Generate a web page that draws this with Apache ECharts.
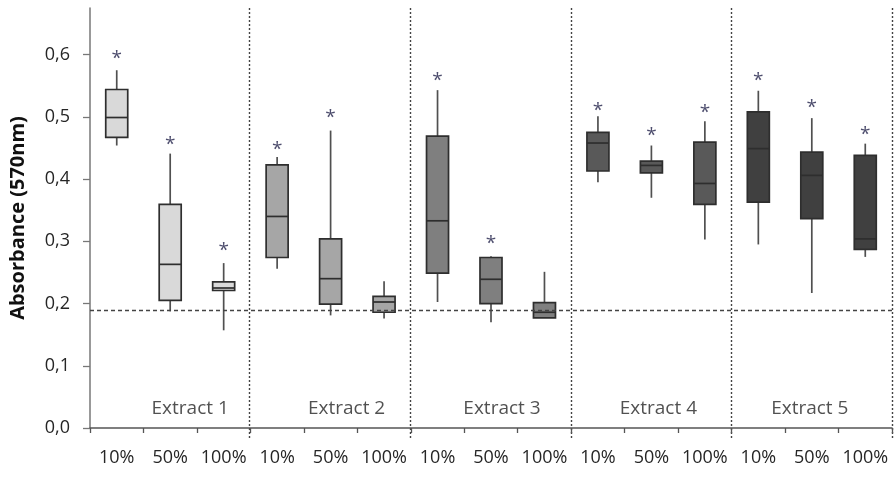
<!DOCTYPE html>
<html>
<head>
<meta charset="utf-8">
<script src="https://cdn.jsdelivr.net/npm/echarts@6/dist/echarts.min.js"></script>
<style>
html,body{margin:0;padding:0;background:#fff;}
#chart{width:894px;height:490px;}
</style>
</head>
<body>
<div id="chart"></div>
<script>
// ---- data ----
const categories = ['10%','50%','100%','10%','50%','100%','10%','50%','100%','10%','50%','100%','10%','50%','100%'];
const extracts = ['Extract 1','Extract 2','Extract 3','Extract 4','Extract 5'];
const boxMin    = [0.454, 0.1875, 0.157, 0.256, 0.181, 0.176, 0.2025, 0.170, 0.1768, 0.395, 0.370, 0.303, 0.295, 0.217, 0.275];
const boxQ1     = [0.467, 0.205, 0.221, 0.274, 0.199, 0.186, 0.249, 0.200, 0.177, 0.413, 0.410, 0.3595, 0.363, 0.3365, 0.287];
const boxMedian = [0.499, 0.263, 0.225, 0.340, 0.240, 0.2025, 0.333, 0.239, 0.186, 0.458, 0.422, 0.393, 0.449, 0.406, 0.304];
const boxQ3     = [0.544, 0.3595, 0.235, 0.423, 0.304, 0.2115, 0.469, 0.274, 0.2015, 0.475, 0.429, 0.4595, 0.508, 0.4435, 0.438];
const boxMax    = [0.575, 0.441, 0.265, 0.4355, 0.478, 0.236, 0.543, 0.276, 0.251, 0.501, 0.454, 0.493, 0.542, 0.498, 0.457];
const starY     = [0.600, 0.462, 0.292, 0.454, 0.505, null, 0.564, 0.302, null, 0.517, 0.477, 0.514, 0.564, 0.521, 0.478];
const referenceLevel = 0.1864;
const yTicks = [0, 0.1, 0.2, 0.3, 0.4, 0.5, 0.6];
const extractLabelY = 0.0317;

// ---- styles ----
const groupFill = ['#d9d9d9', '#a6a6a6', '#7f7f7f', '#595959', '#404040'];
const extractLabelShift = [20, 16, 11, 7, -2];
const FONT = '"Open Sans", "DejaVu Sans", sans-serif';
const TEXT = '#262626';

const boxData = categories.map((c, i) => [i, boxMin[i], boxQ1[i], boxMedian[i], boxQ3[i], boxMax[i]]);
const starData = [];
starY.forEach((v, i) => { if (v != null) starData.push([i, v]); });
const extractData = extracts.map((name, k) => ({
  value: [k * 3 + 1, extractLabelY],
  name: name,
  label: { offset: [extractLabelShift[k], 0] }
}));

const chart = echarts.init(document.getElementById('chart'), null, { renderer: 'canvas' });

const option = {
  animation: false,
  backgroundColor: '#ffffff',
  grid: [
    { left: 89, right: 2, top: 8, bottom: 62 },
    { left: 89, right: 2, top: 8, bottom: 51 }
  ],
  xAxis: [
    {
      type: 'category', gridIndex: 0, data: categories, boundaryGap: true,
      axisLine: { show: true, lineStyle: { color: '#555', width: 1.5 } },
      axisTick: { show: true, length: 5, interval: 0, lineStyle: { color: '#555', width: 1.3 } },
      axisLabel: { interval: 0, fontSize: 18, color: TEXT, margin: 21, fontFamily: FONT },
      splitLine: { show: false }
    },
    {
      type: 'category', gridIndex: 1, data: categories, boundaryGap: true,
      axisLine: { show: false }, axisTick: { show: false }, axisLabel: { show: false },
      splitLine: {
        show: true,
        interval: function (i) { return i > 0 && i % 3 === 0; },
        lineStyle: { color: '#444', width: 1.4, type: [2, 2] }
      }
    }
  ],
  yAxis: [
    {
      type: 'value', gridIndex: 0, min: 0, max: 0.675,
      name: 'Absorbance (570nm)', nameLocation: 'middle', nameGap: 62,
      nameTextStyle: { fontSize: 20, fontWeight: 'bold', color: '#111', fontFamily: FONT },
      axisLine: { show: true, lineStyle: { color: '#777', width: 1.5 } },
      axisTick: { show: true, length: 7, customValues: yTicks, lineStyle: { color: '#777', width: 1.3 } },
      axisLabel: {
        customValues: yTicks, fontSize: 18, color: TEXT, margin: 20, fontFamily: FONT,
        formatter: function (v) { return v.toFixed(1).replace('.', ','); }
      },
      splitLine: { show: false }
    },
    {
      type: 'value', gridIndex: 1, min: 0, max: 1, show: false
    }
  ],
  series: [
    {
      type: 'custom',
      xAxisIndex: 0, yAxisIndex: 0,
      data: boxData,
      encode: { x: 0, y: [1, 2, 3, 4, 5] },
      renderItem: function (params, api) {
        const i = api.value(0);
        const pMin = api.coord([i, api.value(1)]);
        const pQ1 = api.coord([i, api.value(2)]);
        const pMed = api.coord([i, api.value(3)]);
        const pQ3 = api.coord([i, api.value(4)]);
        const pMax = api.coord([i, api.value(5)]);
        const cx = pMin[0];
        const hw = 11;
        const fill = groupFill[Math.floor(i / 3)];
        const stroke = '#2e2e2e';
        return {
          type: 'group',
          children: [
            { type: 'line', shape: { x1: cx, y1: pMin[1], x2: cx, y2: pQ1[1] }, style: { stroke: '#505050', lineWidth: 1.7 } },
            { type: 'line', shape: { x1: cx, y1: pQ3[1], x2: cx, y2: pMax[1] }, style: { stroke: '#505050', lineWidth: 1.7 } },
            { type: 'rect', shape: { x: cx - hw, y: pQ3[1], width: hw * 2, height: pQ1[1] - pQ3[1] }, style: { fill: fill, stroke: stroke, lineWidth: 1.7 } },
            { type: 'line', shape: { x1: cx - hw, y1: pMed[1], x2: cx + hw, y2: pMed[1] }, style: { stroke: stroke, lineWidth: 1.7 } }
          ]
        };
      },
      markLine: {
        silent: true, symbol: 'none', label: { show: false },
        lineStyle: { color: '#444', width: 1.3, type: [4, 3] },
        data: [{ yAxis: referenceLevel }]
      },
      z: 3
    },
    {
      type: 'scatter', xAxisIndex: 0, yAxisIndex: 0,
      data: starData,
      symbolSize: 1,
      itemStyle: { color: 'rgba(0,0,0,0)' },
      label: {
        show: true, position: 'inside', formatter: '*',
        fontSize: 19, color: '#22224a', fontFamily: FONT, offset: [0, 4]
      },
      z: 4
    },
    {
      type: 'scatter', xAxisIndex: 0, yAxisIndex: 0,
      data: extractData,
      symbolSize: 1,
      itemStyle: { color: 'rgba(0,0,0,0)' },
      label: {
        show: true, position: 'inside',
        formatter: function (p) { return p.name; },
        fontSize: 19, color: TEXT, fontFamily: FONT
      },
      z: 4
    }
  ]
};

chart.setOption(option);
</script>
</body>
</html>
